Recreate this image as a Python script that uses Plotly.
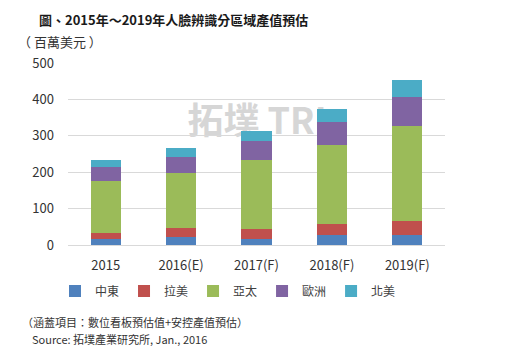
import plotly.graph_objects as go

# ---- data ----
years = ["2015", "2016(E)", "2017(F)", "2018(F)", "2019(F)"]
series_names = ["中東", "拉美", "亞太", "歐洲", "北美"]
mideast = [17, 23, 17, 28, 28]
latam = [17, 25, 28, 30, 38]
apac = [142, 151, 189, 217, 261]
europe = [38, 44, 52, 63, 79]
namerica = [19, 24, 27, 37, 47]
colors = ["#4F81BD", "#C0504D", "#9BBB59", "#8064A2", "#4BACC6"]
y_ticks = [0, 100, 200, 300, 400, 500]

title_text = "圖、2015年～2019年人臉辨識分區域產值預估"
unit_text = "（ 百萬美元 ）"
note_text = "（涵蓋項目：數位看板預估值+安控產值預估）"
source_text = "Source: 拓墣產業研究所, Jan., 2016"
watermark_text = "拓墣 TRI"

FONT = "Noto Sans CJK TC, Noto Sans, sans-serif"

# page has an 8px body margin; lay the figure out in page coordinates
OFF = 8
PAGE_W, PAGE_H = 508, 360
W, H = PAGE_W - OFF, PAGE_H - OFF
PL, PR, PT, PB = 68, 445, 63, 245          # plot area edges in page pixels
L, R, T, B = PL - OFF, PAGE_W - PR, PT - OFF, PAGE_H - PB
PW, PH = PR - PL, PB - PT


def px(x):
    return (x - PL) / PW


def py(y):
    return (PB - y) / PH


fig = go.Figure()
for name, vals, col in zip(series_names, [mideast, latam, apac, europe, namerica], colors):
    fig.add_trace(go.Bar(x=years, y=vals, name=name, marker=dict(color=col, line=dict(width=0))))

fig.update_layout(
    width=W, height=H,
    margin=dict(l=L, r=R, t=T, b=B, pad=0),
    barmode="stack", bargap=0.6,
    paper_bgcolor="white", plot_bgcolor="white",
    font=dict(family=FONT, size=13, color="#404040"),
    showlegend=True,
    legend=dict(orientation="h", x=px(228), xanchor="center", y=py(291), yanchor="middle",
                font=dict(size=12, color="#404040"), itemwidth=30, traceorder="normal",
                bgcolor="rgba(0,0,0,0)"),
    xaxis=dict(showgrid=False, zeroline=False, showline=False, ticks="",
               tickfont=dict(size=13, color="#333333"), ticklabelstandoff=11),
    yaxis=dict(range=[0, 500], tickvals=y_ticks, showgrid=True, gridcolor="#D9D9D9",
               gridwidth=1, zeroline=True, zerolinecolor="#D9D9D9", zerolinewidth=1,
               showline=False, ticks="", tickfont=dict(size=13, color="#333333"),
               ticklabelstandoff=13),
)

annotations = [
    dict(text="<b>" + title_text + "</b>", x=px(37), y=py(20), font=dict(size=13, color="#1a1a1a")),
    dict(text=unit_text, x=px(16), y=py(41), font=dict(size=13, color="#333333")),
    dict(text=note_text, x=px(20), y=py(322), font=dict(size=11, color="#333333")),
    dict(text=source_text, x=px(30), y=py(339), font=dict(size=11, color="#333333")),
]
for a in annotations:
    a.update(xref="paper", yref="paper", xanchor="left", yanchor="middle", showarrow=False)
fig.update_layout(annotations=annotations)

fig.add_shape(type="rect", xref="paper", yref="paper",
              x0=px(178), x1=px(336), y0=py(143), y1=py(105),
              line=dict(width=0), fillcolor="rgba(0,0,0,0)", layer="below",
              label=dict(text="<b>" + watermark_text + "</b>", textposition="middle center",
                         font=dict(size=36, color="#D6D6D6", family=FONT)))

fig.write_html("out.html")
